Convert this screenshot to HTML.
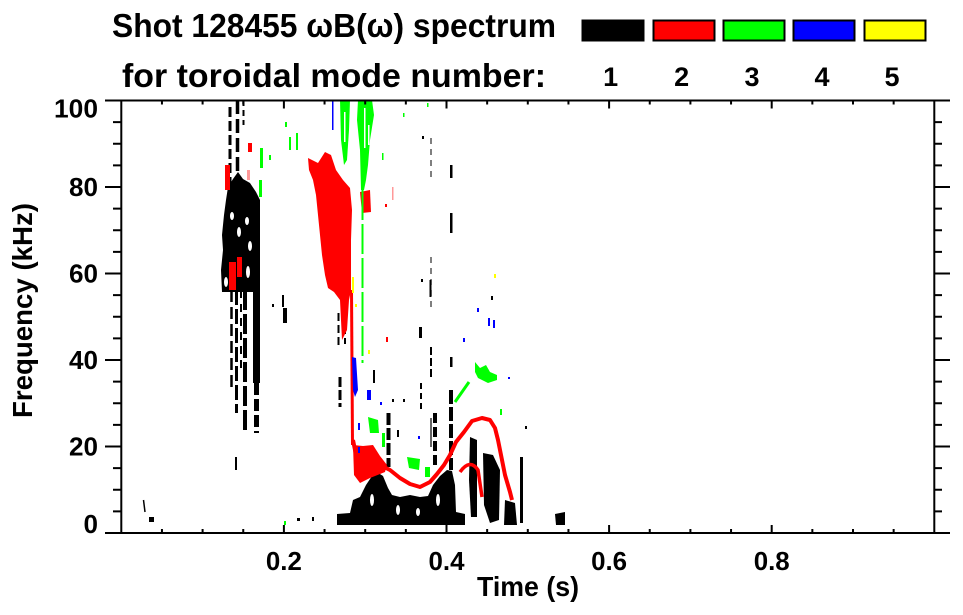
<!DOCTYPE html>
<html><head><meta charset="utf-8"><style>
html,body{margin:0;padding:0;background:#fff;}
svg{display:block;}
text{font-family:"Liberation Sans",Arial,sans-serif;font-weight:bold;fill:#000;}
</style></head><body>
<svg width="963" height="615" viewBox="0 0 963 615" xmlns="http://www.w3.org/2000/svg">
<rect width="963" height="615" fill="#fff"/>

<!-- ===== DATA ===== -->
<g fill="#000">
<path d="M228,187 L233,179 L238,172 L243,179 L250,183 L256,192 L260,200 L260,292 L222,292 L221,270 L223,250 L222,235 L224,215 L226,200 Z"/>
<rect x="253" y="200" width="7" height="183"/>
<rect x="149" y="517" width="5" height="5"/>
<rect x="283" y="308" width="4" height="15"/>
<rect x="282" y="295" width="2" height="12"/>
<rect x="272" y="304" width="2" height="3"/>
<rect x="235" y="457" width="2" height="13"/>
<rect x="297" y="518" width="3" height="3"/>
<rect x="312" y="517" width="2" height="4"/>
<rect x="419" y="327" width="3" height="11"/>
<rect x="421" y="279" width="2" height="3"/>
<rect x="422" y="136" width="2" height="3"/>
<rect x="450" y="165" width="2.5" height="13"/>
<rect x="450" y="213" width="2.5" height="20"/>
<rect x="450" y="357" width="2.5" height="10"/>
<rect x="373" y="370" width="2" height="13"/>
<rect x="403" y="399" width="2" height="3"/>
<rect x="392" y="399" width="2" height="3"/>
<rect x="397" y="430" width="2" height="7"/>
<rect x="525" y="426" width="2" height="3"/>
<rect x="491" y="296" width="2" height="4"/>
</g>
<g stroke="#000" fill="none">
<line x1="230" y1="107" x2="230" y2="187" stroke-width="3" stroke-dasharray="10 4"/>
<line x1="237.5" y1="100" x2="237.5" y2="187" stroke-width="3.5" stroke-dasharray="14 5"/>
<line x1="243.5" y1="100" x2="243.5" y2="125" stroke-width="2" stroke-dasharray="6 4"/>
<line x1="231.5" y1="290" x2="231.5" y2="390" stroke-width="2.5" stroke-dasharray="12 5"/>
<line x1="236.5" y1="290" x2="236.5" y2="413" stroke-width="3" stroke-dasharray="15 4"/>
<line x1="241" y1="290" x2="241" y2="370" stroke-width="2" stroke-dasharray="8 6"/>
<line x1="245" y1="290" x2="245" y2="430" stroke-width="4" stroke-dasharray="20 4"/>
<line x1="256.5" y1="383" x2="256.5" y2="433" stroke-width="5" stroke-dasharray="12 4"/>
<line x1="143.5" y1="500" x2="145" y2="512" stroke-width="1.5"/>
<line x1="338.5" y1="313" x2="338.5" y2="347" stroke-width="2" stroke-dasharray="8 4"/>
<line x1="345" y1="318" x2="345" y2="345" stroke-width="2" stroke-dasharray="6 4"/>
<line x1="340" y1="377" x2="340" y2="407" stroke-width="3" stroke-dasharray="10 3"/>
<line x1="388.5" y1="413" x2="388.5" y2="467" stroke-width="4" stroke-dasharray="12 3"/>
<line x1="431" y1="138" x2="431" y2="182" stroke-width="1.5" stroke-dasharray="6 5" stroke="#555"/>
<line x1="431" y1="257" x2="431" y2="307" stroke-width="1.5" stroke-dasharray="6 5" stroke="#555"/>
<line x1="431" y1="347" x2="431" y2="377" stroke-width="2" stroke-dasharray="8 3"/>
<line x1="430.5" y1="280" x2="430.5" y2="297" stroke-width="2"/>
<line x1="421" y1="383" x2="421" y2="410" stroke-width="2" stroke-dasharray="6 4"/>
<line x1="431" y1="418" x2="431" y2="447" stroke-width="2" stroke="#666"/>
<line x1="435" y1="413" x2="435" y2="467" stroke-width="4" stroke-dasharray="10 4"/>
<line x1="451" y1="390" x2="451" y2="470" stroke-width="4" stroke-dasharray="14 3"/>
</g>
<g fill="#fff">
<ellipse cx="232" cy="216" rx="2" ry="4"/>
<ellipse cx="239" cy="232" rx="2" ry="5"/>
<ellipse cx="247" cy="221" rx="2" ry="4"/>
<ellipse cx="250" cy="246" rx="2" ry="5"/>
<ellipse cx="226" cy="282" rx="2" ry="5"/>
<ellipse cx="248" cy="272" rx="2" ry="6"/>
</g>

<!-- bottom black band -->
<g fill="#000">
<path d="M337,514 L350,513 L353,500 L360,497 L366,485 L372,476 L377,472 L383,476 L388,488 L392,495 L400,497 L410,495 L420,497 L428,496 L433,485 L440,476 L447,470 L452,471 L455,485 L456,512 L465,514 L465,525 L337,525 Z"/>
<path d="M470,437 L477,440 L477,517 L471,517 L469,480 Z"/>
<path d="M483,453 L493,455 L500,470 L499,520 L490,523 L484,505 Z"/>
<path d="M505,500 L515,503 L517,525 L504,525 Z"/>
<rect x="520" y="457" width="3" height="66"/>
<path d="M555,514 L565,512 L565,525 L556,525 Z"/>
</g>
<g fill="#fff">
<ellipse cx="372" cy="500" rx="2" ry="6"/>
<ellipse cx="398" cy="510" rx="2" ry="5"/>
<ellipse cx="418" cy="512" rx="2" ry="4"/>
<ellipse cx="438" cy="500" rx="2" ry="6"/>
</g>

<!-- red -->
<g fill="#f00">
<rect x="229" y="262" width="7" height="28"/>
<rect x="237" y="257" width="5" height="20"/>
<rect x="225" y="165" width="5" height="25"/>
<rect x="248" y="143" width="4" height="9"/>
<rect x="247" y="170" width="3" height="10" fill="#f99"/>
<path d="M308,158 L318,163 L325,152 L331,155 L336,170 L343,180 L350,188 L352,210 L351,240 L351,290 L349,300 L347,330 L342,340 L340,300 L334,292 L328,288 L325,275 L322,255 L320,235 L318,215 L316,195 L313,180 L309,170 Z"/>
<path d="M360,192 L370,190 L371,212 L362,213 Z"/>
<rect x="386" y="337" width="2" height="5"/>
<rect x="385" y="204" width="2" height="3"/>
<rect x="392" y="187" width="1.5" height="13" fill="#f99"/>
<path d="M353,445 L363,446 L373,445 L380,456 L387,465 L385,472 L370,478 L360,483 L354,475 Z"/>
</g>
<g stroke="#f00" fill="none" stroke-linejoin="round">
<line x1="351.5" y1="290" x2="352.5" y2="445" stroke-width="3"/>
<path d="M353,440 L356,455 L362,462 L372,460 L382,466 L390,470 L400,478 L410,484 L420,487 L430,482 L437,474 L444,465 L450,455 L456,442 L464,432 L472,421 L482,418 L490,420 L495,428 L498,440 L501,455 L505,475 L510,492 L512,500" stroke-width="4"/>
<path d="M460,472 Q470,458 478,470 L482,497" stroke-width="3.5"/>
</g>

<!-- green -->
<g fill="#0f0">
<path d="M340,100 L350,100 L349,130 L347,160 L344,165 L341,140 Z"/>
<path d="M358,100 L372,100 L374,115 L370,140 L368,165 L366,180 L364,190 L361,190 L360,150 L357,120 Z"/>
<rect x="260" y="148" width="3" height="20"/>
<rect x="259" y="180" width="3" height="17"/>
<rect x="269" y="155" width="2" height="5"/>
<rect x="285" y="122" width="2" height="5"/>
<rect x="289" y="137" width="2" height="13"/>
<rect x="296" y="133" width="2" height="17"/>
<rect x="382" y="153" width="1.5" height="7"/>
<rect x="403" y="113" width="1.5" height="4"/>
<rect x="427" y="103" width="1.5" height="4"/>
<rect x="284" y="521" width="2" height="4"/>
<path d="M368,417 L378,420 L379,433 L370,433 Z"/>
<rect x="382" y="433" width="3" height="14"/>
<path d="M407,457 L420,459 L419,470 L409,468 Z"/>
<rect x="425" y="467" width="5" height="10"/>
<path d="M475,362 L480,368 L486,365 L490,372 L497,375 L497,380 L488,383 L478,378 L475,372 Z"/>
<rect x="500" y="409" width="2" height="6"/>
</g>
<g fill="#fff">
<rect x="344" y="112" width="1.5" height="30"/>
<rect x="364" y="108" width="1.5" height="40"/>
<rect x="368" y="125" width="1.5" height="20"/>
</g>
<g stroke="#0f0" fill="none">
<line x1="362.5" y1="190" x2="362.5" y2="363" stroke-width="2" stroke-dasharray="30 4"/>
<line x1="455" y1="402" x2="469" y2="382" stroke-width="3"/>
</g>

<!-- blue -->
<g fill="#00f">
<rect x="332" y="100" width="1.5" height="30"/>
<path d="M352,357 L356,358 L358,390 L355,397 L353,390 Z"/>
<rect x="367" y="390" width="4" height="10"/>
<rect x="358" y="423" width="2" height="7"/>
<rect x="358" y="447" width="2" height="6"/>
<rect x="380" y="402" width="2" height="3"/>
<rect x="477" y="308" width="2" height="4"/>
<rect x="488" y="318" width="2" height="8"/>
<rect x="493" y="320" width="2" height="8"/>
<rect x="463" y="338" width="2" height="4"/>
<rect x="508" y="377" width="2" height="2"/>
<rect x="418" y="436" width="2" height="3"/>
</g>

<!-- yellow -->
<g fill="#ff0">
<rect x="352" y="277" width="2" height="16"/>
<rect x="355" y="304" width="2" height="3"/>
<rect x="368" y="350" width="2" height="4"/>
<rect x="494" y="274" width="2" height="4"/>
</g>

<!-- ===== AXES ===== -->
<g stroke="#000" stroke-width="2" fill="none">
<line x1="121.3" y1="100.5" x2="121.3" y2="533"/>
<line x1="934.3" y1="100.5" x2="934.3" y2="533"/>
<line x1="105" y1="100.5" x2="950" y2="100.5"/>
<line x1="105" y1="533" x2="950" y2="533"/>
<path d="M105,187H121.3 M105,273.5H121.3 M105,360H121.3 M105,446.5H121.3
M934.3,187H950 M934.3,273.5H950 M934.3,360H950 M934.3,446.5H950"/>
<path d="M113,122.1H121.3 M113,143.75H121.3 M113,165.4H121.3 M113,208.6H121.3 M113,230.25H121.3 M113,251.9H121.3 M113,295.1H121.3 M113,316.75H121.3 M113,338.4H121.3 M113,381.6H121.3 M113,403.25H121.3 M113,424.9H121.3 M113,468.1H121.3 M113,489.75H121.3 M113,511.4H121.3"/>
<path d="M934.3,122.1H942 M934.3,143.75H942 M934.3,165.4H942 M934.3,208.6H942 M934.3,230.25H942 M934.3,251.9H942 M934.3,295.1H942 M934.3,316.75H942 M934.3,338.4H942 M934.3,381.6H942 M934.3,403.25H942 M934.3,424.9H942 M934.3,468.1H942 M934.3,489.75H942 M934.3,511.4H942"/>
<path d="M161.95,533V529 M202.6,533V529 M243.25,533V529 M324.55,533V529 M365.2,533V529 M405.85,533V529 M487.15,533V529 M527.8,533V529 M568.45,533V529 M649.75,533V529 M690.4,533V529 M731.05,533V529 M812.35,533V529 M853,533V529 M893.65,533V529"/>
<path d="M283.9,533V525 M446.5,533V525 M609.1,533V525 M771.7,533V525"/>
<path d="M161.95,100.5V104.5 M202.6,100.5V104.5 M243.25,100.5V104.5 M324.55,100.5V104.5 M365.2,100.5V104.5 M405.85,100.5V104.5 M487.15,100.5V104.5 M527.8,100.5V104.5 M568.45,100.5V104.5 M649.75,100.5V104.5 M690.4,100.5V104.5 M731.05,100.5V104.5 M812.35,100.5V104.5 M853,100.5V104.5 M893.65,100.5V104.5"/>
<path d="M283.9,100.5V108.5 M446.5,100.5V108.5 M609.1,100.5V108.5 M771.7,100.5V108.5"/>
</g>

<!-- y tick labels -->
<g font-size="26" text-anchor="end">
<text x="98" y="117.5" textLength="44" lengthAdjust="spacingAndGlyphs">100</text>
<text x="98" y="196" textLength="29" lengthAdjust="spacingAndGlyphs">80</text>
<text x="98" y="282.5" textLength="29" lengthAdjust="spacingAndGlyphs">60</text>
<text x="98" y="369" textLength="29" lengthAdjust="spacingAndGlyphs">40</text>
<text x="98" y="455.5" textLength="29" lengthAdjust="spacingAndGlyphs">20</text>
<text x="98" y="533" textLength="14.5" lengthAdjust="spacingAndGlyphs">0</text>
</g>
<g font-size="26" text-anchor="middle">
<text x="283.9" y="570" textLength="36" lengthAdjust="spacingAndGlyphs">0.2</text>
<text x="446.5" y="570" textLength="36" lengthAdjust="spacingAndGlyphs">0.4</text>
<text x="609.1" y="570" textLength="36" lengthAdjust="spacingAndGlyphs">0.6</text>
<text x="771.7" y="570" textLength="36" lengthAdjust="spacingAndGlyphs">0.8</text>
</g>
<text x="528" y="596" font-size="28" text-anchor="middle" textLength="102" lengthAdjust="spacingAndGlyphs">Time (s)</text>
<text transform="translate(32,310.5) rotate(-90)" font-size="28" text-anchor="middle" textLength="215" lengthAdjust="spacingAndGlyphs">Frequency (kHz)</text>

<!-- title & legend -->
<text x="112" y="37" font-size="33" textLength="444" lengthAdjust="spacingAndGlyphs">Shot 128455 ωB(ω) spectrum</text>
<text x="122" y="87" font-size="33" textLength="424" lengthAdjust="spacingAndGlyphs">for toroidal mode number:</text>
<g stroke="#000" stroke-width="2">
<rect x="582.5" y="20.5" width="61" height="20" fill="#000"/>
<rect x="653.5" y="20.5" width="61" height="20" fill="#f00"/>
<rect x="723.5" y="20.5" width="61" height="20" fill="#0f0"/>
<rect x="793.5" y="20.5" width="61" height="20" fill="#00f"/>
<rect x="864.5" y="20.5" width="61" height="20" fill="#ff0"/>
</g>
<g font-size="27" text-anchor="middle">
<text x="610.7" y="86">1</text>
<text x="681.7" y="86">2</text>
<text x="752" y="86">3</text>
<text x="822" y="86">4</text>
<text x="892" y="86">5</text>
</g>
</svg>
</body></html>
